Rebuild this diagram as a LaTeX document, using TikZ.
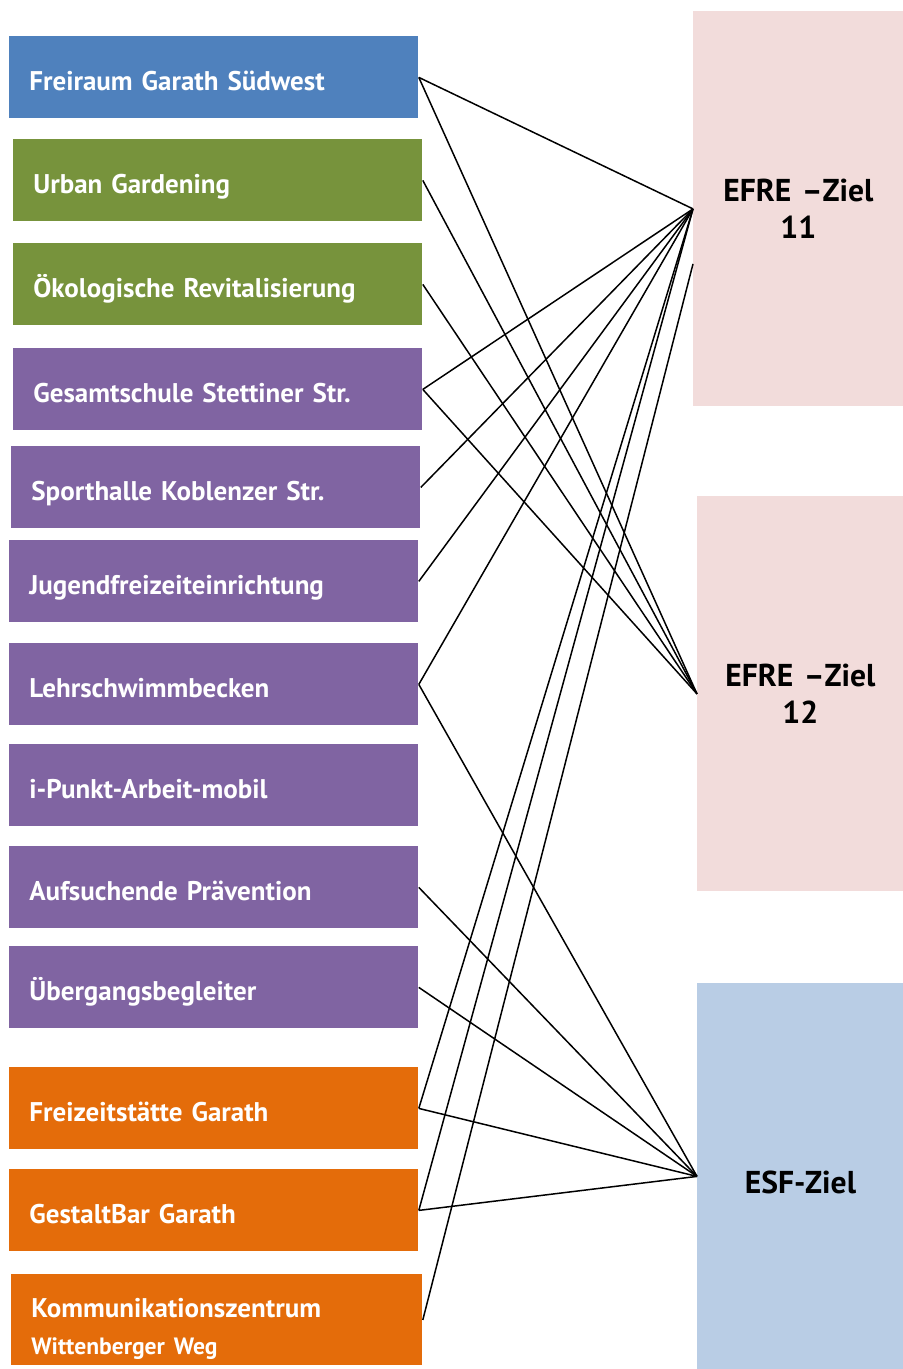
\documentclass[tikz,border=0pt]{standalone}
\usepackage{fontspec}
\setmainfont{PT Sans}
\usetikzlibrary{positioning}
\definecolor{my_blue}{RGB}{79, 129, 189}
\definecolor{my_green}{RGB}{119, 147, 60}
\definecolor{my_purple}{RGB}{128, 100, 162}
\definecolor{my_orange}{RGB}{228, 108, 10}
\definecolor{my_pink}{RGB}{242, 220, 219}
\definecolor{my_lightblue}{RGB}{185, 205, 229}
\tikzset {
  leftbox/.style = {rectangle, anchor=north west, minimum height=41pt, text width=184.5pt, inner xsep=10pt, align=left, text=white, text height=14pt, text depth=1pt, font=\fontsize{13.5}{15}\selectfont\bfseries},
  rightbox/.style = {rectangle, anchor=north west, text width=95pt, inner xsep=5pt, align=center, text=black, font=\fontsize{15.8}{18.5}\selectfont\bfseries},
  line/.style = {-, line width=0.75pt, color=black},
}

\begin{document}
\begin{tikzpicture}[x=0.5pt, y=-0.5pt]
    \useasboundingbox (0,0) rectangle (903,1369);

    % projects
    \node[leftbox, fill=my_blue] (freiraum) at (9,36) {Freiraum Garath Südwest};
    \node[leftbox, fill=my_green] (urban) at (13,139) {Urban Gardening};
    \node[leftbox, fill=my_green] (oeko) at (13,243) {Ökologische Revitalisierung};
    \node[leftbox, fill=my_purple] (gesamt) at (13,348) {Gesamtschule Stettiner Str.};
    \node[leftbox, fill=my_purple] (sport) at (11,446) {Sporthalle Koblenzer Str.};
    \node[leftbox, fill=my_purple] (jugend) at (9,540) {Jugendfreizeiteinrichtung};
    \node[leftbox, fill=my_purple] (lehr) at (9,643) {Lehrschwimmbecken};
    \node[leftbox, fill=my_purple] (ipunkt) at (9,744) {i-Punkt-Arbeit-mobil};
    \node[leftbox, fill=my_purple] (aufsuch) at (9,846) {Aufsuchende Prävention};
    \node[leftbox, fill=my_purple] (uebergang) at (9,946) {Übergangsbegleiter};
    \node[leftbox, fill=my_orange] (freizeit) at (9,1067) {Freizeitstätte Garath};
    \node[leftbox, fill=my_orange] (gestalt) at (9,1169) {GestaltBar Garath};
    \node[leftbox, fill=my_orange, minimum height=45.5pt, text width=185.5pt, text height=10pt, text depth=12pt] (kommu) at (11,1274) {Kommunikationszentrum\\[3.3pt]{\fontsize{11.8}{13}\selectfont\bfseries Wittenberger Weg}};

    % goals
    \node[rightbox, fill=my_pink, minimum width=105pt, minimum height=197.5pt] (efre11) at (693,11) {EFRE –Ziel\\11};
    \node[rightbox, fill=my_pink, minimum width=103pt, minimum height=197.5pt, text width=93pt] (efre12) at (697,496) {EFRE –Ziel\\12};
    \node[rightbox, fill=my_lightblue, minimum width=103pt, minimum height=193pt, text width=93pt, text height=17.2pt, text depth=0pt] (esf) at (697,983) {ESF-Ziel};

    \draw[line] (freiraum.east) -- (efre11.west);
    \draw[line] (freiraum.east) -- (efre12.west);
    \draw[line] (urban.east) -- (efre12.west);
    \draw[line] (oeko.east) -- (efre12.west);
    \draw[line] (gesamt.east) -- (efre11.west);
    \draw[line] (gesamt.east) -- (efre12.west);
    \draw[line] (sport.east) -- (efre11.west);
    \draw[line] (jugend.east) -- (efre11.west);
    \draw[line] (lehr.east) -- (efre11.west);
    \draw[line] (lehr.east) -- (esf.west);
    \draw[line] (aufsuch.east) -- (esf.west);
    \draw[line] (uebergang.east) -- (esf.west);
    \draw[line] (freizeit.east) -- (efre11.west);
    \draw[line] (freizeit.east) -- (esf.west);
    \draw[line] (gestalt.east) -- (efre11.west);
    \draw[line] (gestalt.east) -- (esf.west);
    \draw[line] (kommu.east) -- ([yshift=-27.5pt]efre11.west);

\end{tikzpicture}
\end{document}
